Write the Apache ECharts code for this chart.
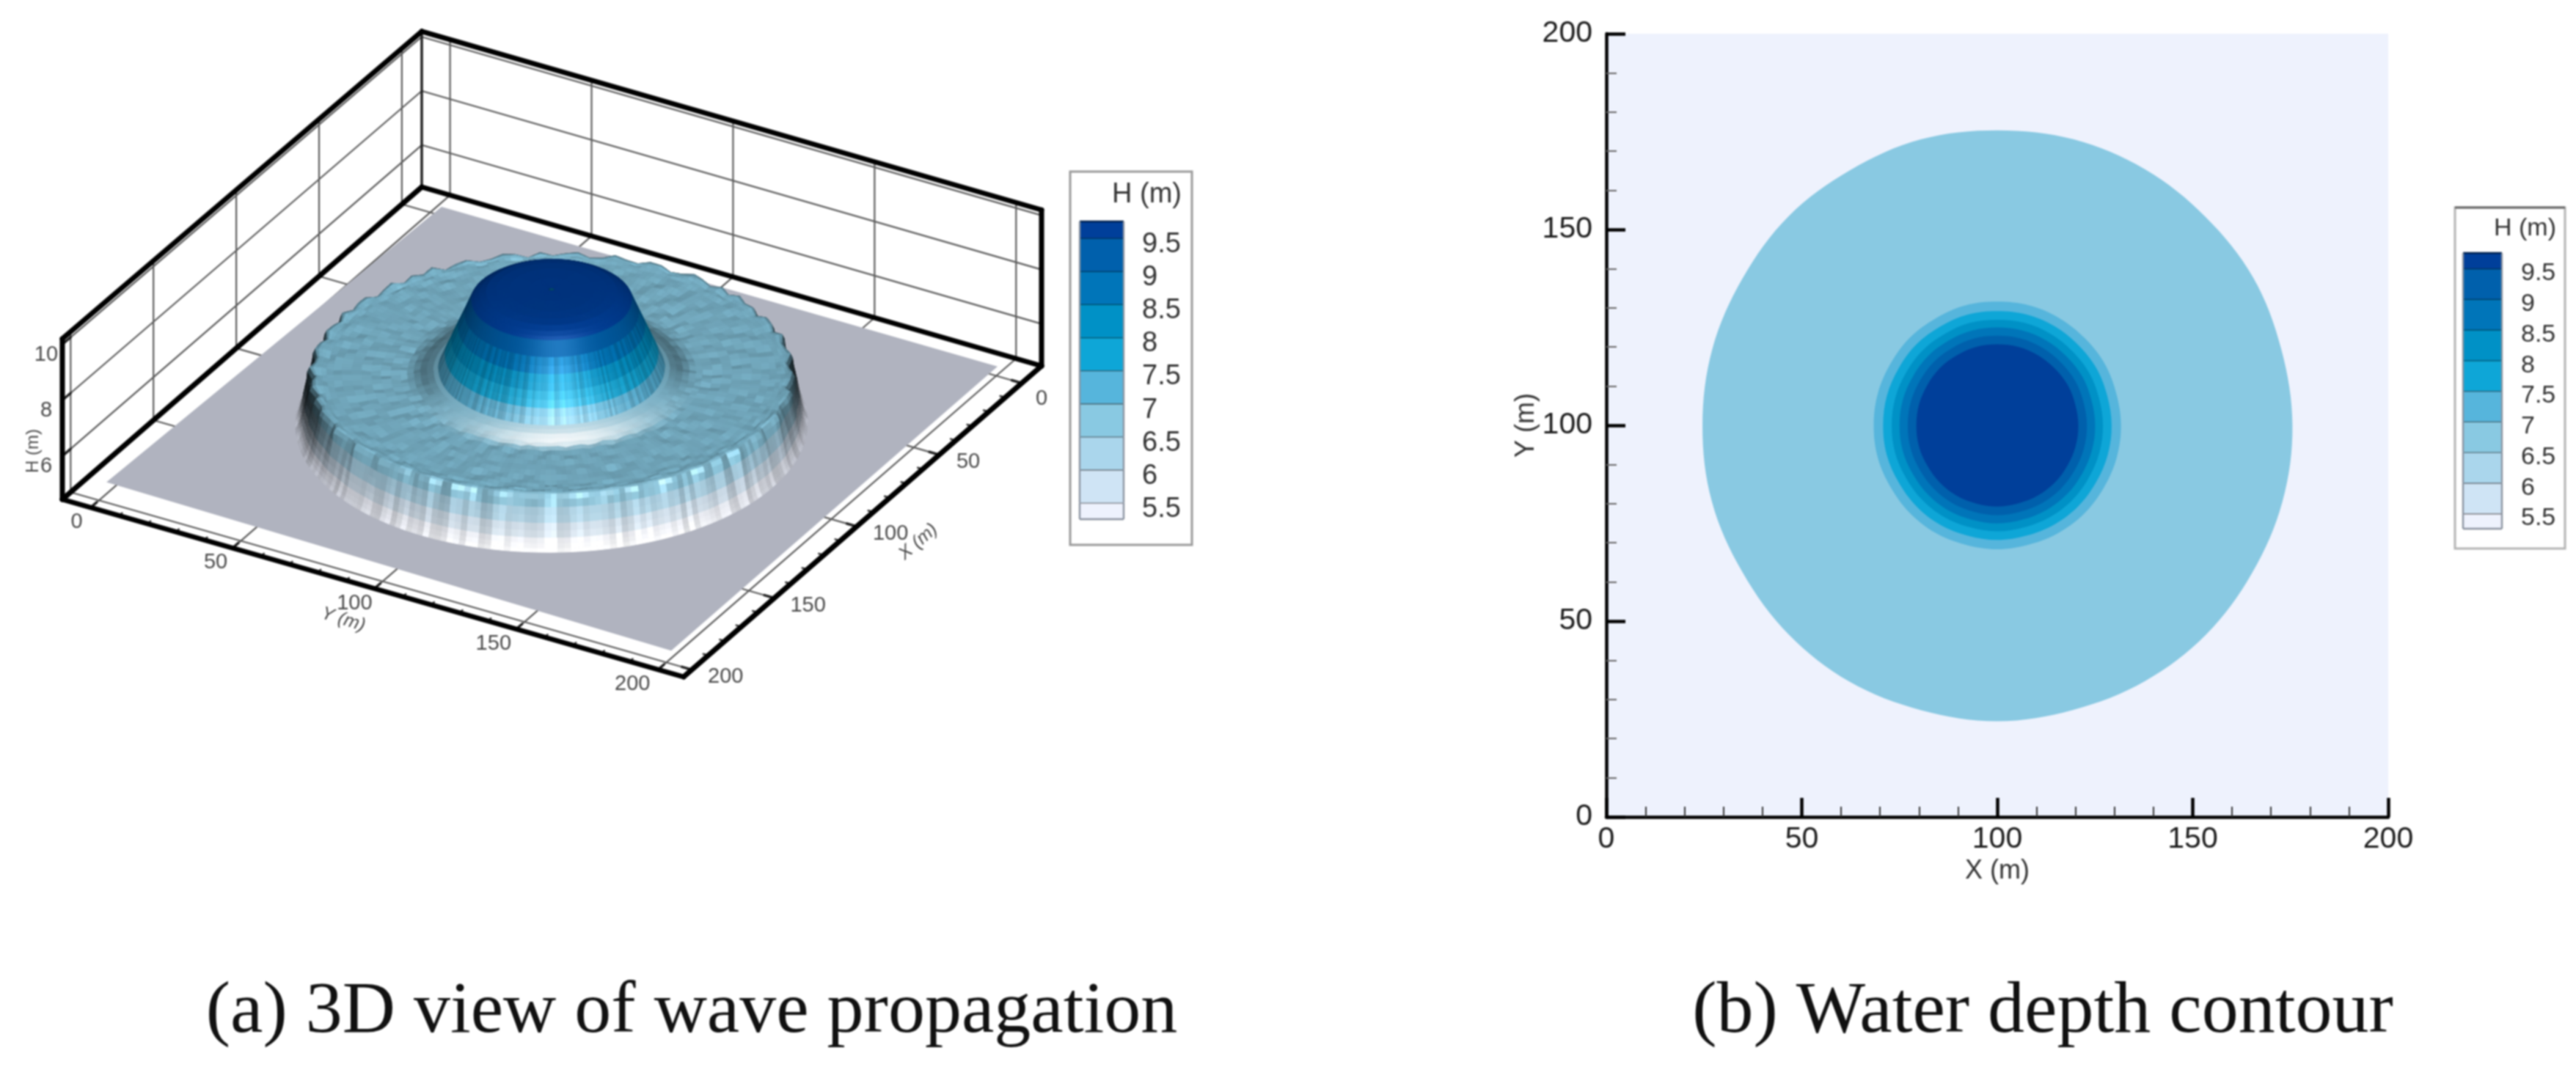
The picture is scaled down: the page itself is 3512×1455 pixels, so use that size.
<!DOCTYPE html>
<html><head><meta charset="utf-8">
<style>html,body{margin:0;padding:0;background:#fff}#c{width:3512px;height:1455px;filter:blur(1.1px)}</style>
<script src="https://cdn.jsdelivr.net/npm/echarts@6/dist/echarts.min.js"></script>
</head><body><div id="c"></div>
<script>
// ---------- values ----------
const axisTicks = [0, 50, 100, 150, 200];
const minorTicks = [10,20,30,40,60,70,80,90,110,120,130,140,160,170,180,190];
const hTicks = [6, 8, 10];
const levels = [5.5, 6, 6.5, 7, 7.5, 8, 8.5, 9, 9.5];
const levelLabels = ['5.5','6','6.5','7','7.5','8','8.5','9','9.5'];
const bandLow = [5.25, 5.5, 6, 6.5, 7, 7.5, 8, 8.5, 9, 9.5];
const bandHigh = [5.5, 6, 6.5, 7, 7.5, 8, 8.5, 9, 9.5, 9.75];
const bandColors = ['#eef2fd','#cfe4f5','#aad6ec','#89c9e2','#56b5dc','#0ea6d7','#0091c6','#0075b9','#0060ac','#003f9a'];
// panel (b): contour radius around the centre (100,100)
const contourCentre = [100, 100];
const contourBand = [3, 4, 5, 6, 7, 8, 9];
const contourRadius = [75.4, 31.6, 29.2, 27, 25, 22.9, 20.7];
// contour radius seen at every 15 degrees, relative to its mean
const outerWobble = [0.1,-0.2,0.15,-0.1,0.1,0.2,-0.05,0.2,-0.15,0.1,-0.2,0.05,0.0,0.15,-0.2,0.1,0.2,-0.1,0.15,-0.2,0.05,0.15,-0.1,0.1];
// panel (a): radial height profile of the wave, one entry per ring
const surfaceCentre = [100, 101.3];
const profileR = [1,7,13,17,20,22,23.5,24.5,25.5,26.5,27.5,28.5,29.5,30.5,31.5,32.5,33.5,34.5,36,38,40,42,44,46,49,52,55,58,61,64,66.5,68.5,70,71,72,72.8,73.5,74.2,74.8,75.4,75.9,76.4,76.9,77.4,78];
const profileH = [9.9,9.9,9.88,9.84,9.78,9.68,9.58,9.5,9.25,9,8.74,8.5,8.25,8,7.74,7.5,7.25,7,6.95,6.9,6.85,6.81,6.78,6.76,6.76,6.76,6.76,6.76,6.76,6.76,6.76,6.77,6.78,6.8,6.82,6.8,6.65,6.4,6.15,5.9,5.65,5.42,5.25,5.1,5.0];
const rimRadial = [0,0,0,0,0,0,0,0,0,0,0,0,0,0,0,0,0,0,0,0,0,0,0,0,0,0,0,0,0,0,0,1,2,4,7,10,10,5,4,3,2,1.5,1,.5,0];
const rimHeight = [0,0,0,0,0,0,0,0,0,0,0,0,0,0,0,0,0,0,0,0,0,0,0,0,0,0,0,0,0,0,0,0,.1,.3,.55,.6,.4,.3,.2,.12,.08,.04,0,0,0];
const rippleAmp = [0,0,0,0,0,0,0,0,0,0,0,0,0,0,0,0,0,0,0,.5,1,1.5,2,2,2,2,2,2,2,2,2,2,2,1.5,1,.5,.3,0,0,0,0,0,0,0,0];
const ringGlow = [0,0,0,0,0,0,0,0,0,0,0,.05,.08,.1,.15,.22,.35,.5,.62,.85,.9,.75,.2,0,0,0,0,0,0,0,0,0,0,0,.06,.1,.12,.15,.2,.3,.4,.55,.75,.9,.9];
const ringDark = [0,0,0,0,0,0,0,0,0,0,0,0,0,0,0,0,0,.08,.25,.3,.2,.08,0,0,0,0,0,0,0,0,0,0,0,0,.15,.45,.72,.75,.7,.6,.5,.35,.2,.1,0];
const wallFade = [0,0,0,0,0,0,0,0,0,0,0,0,0,0,0,0,0,0,0,0,0,0,0,0,0,0,0,0,0,0,0,0,0,0,0,0,0,0,.05,.15,.3,.45,.65,.85,1];
const rim = [.06,-.05,.09,-.02,-.08,.04,.10,-.06,.02,.08,-.09,-.01,.07,.03,-.07,.05,-.03,.11,-.04,-.08,
 .06,.01,-.06,.09,-.02,.04,-.10,.07,.00,-.05,.08,-.07,.03,.10,-.03,-.06,.05,.09,-.08,.02,
 .06,-.04,-.09,.08,.01,-.02,.10,-.06,.04,.07,-.09,.03,-.01,.08,-.05,.06,-.07,.02,.09,-.03,
 -.08,.05,.07,-.06,.00,.10,-.04,-.07,.08,.02,-.05,.06,-.09,.04,.09,-.02,-.06,.07,.01,-.08,
 .10,-.03,.05,-.07,.08,-.01,-.09,.06,.03,-.04,.09,-.06,.02,.07,-.08,.04,.08,-.05,-.02,.10,
 -.07,.03,.06,-.09,.05,-.03,.08,.01,-.06,.09,-.04,-.08,.07,.02,-.05,.10,-.02,.04,-.07,.05];
const streak = [.8,-.6,.2,-1,.5,.9,-.3,-.8,.4,.1,-.7,1,-.2,.6,-.9,.3,-.4,.7,-1,.2,
 .9,-.5,.1,-.8,.6,-.1,.4,-.9,.8,-.3,.5,-.6,1,-.2,-.7,.3,.7,-1,.1,-.4,
 .6,.2,-.8,.9,-.5,.3,-.1,-.9,.7,.4,-.6,.8,-.3,-.7,1,-.2,.5,-.9,.2,-.4];
const plateCorners = [[1.7,5],[196,0.3],[199.6,201.5],[1.3,201.2]];
const boxRangeX = [-12, 205];
const boxRangeY = [-10, 209];
const boxRangeH = [4.45, 10.2];

// ---------- view of the 3D box on the page ----------
const view = {back:[575,255,36.9], left:[85,681,38.1], right:[1420,499,37], front:[932,923,37.5], plateH:4.9};
function project(X, Y, H) {
  const u = (X-boxRangeX[0])/(boxRangeX[1]-boxRangeX[0]), v = (Y-boxRangeY[0])/(boxRangeY[1]-boxRangeY[0]);
  const b = i => (1-u)*(1-v)*view.back[i] + u*(1-v)*view.left[i] + (1-u)*v*view.right[i] + u*v*view.front[i];
  return [b(0), b(1) - (H-boxRangeH[0])*b(2)];
}
// ---------- surface mesh from the profile ----------
function hex(c){return [1,3,5].map(i=>parseInt(c.substr(i,2),16));}
function bandOf(h){for(let i=bandHigh.length-1;i>=0;i--){if(h>=bandLow[i])return i;}return 0;}
const rimN = rim.length, sectors = rimN*2, hScale = 9.9;
const fDir=[.867,.498], sDir=[-.508,.862], plateRGB=hex('#b0b3bf');
function norm(v){const l=Math.hypot(...v);return v.map(a=>a/l);}
const L = norm([.72,.13,.68]), Vw=[.866,0,.5], Hv = norm([L[0]+Vw[0],L[1]+Vw[1],L[2]+Vw[2]]);
const rimSoft = rim.map((_,k)=>(rim[(k+rimN-2)%rimN]+rim[(k+rimN-1)%rimN]+rim[k]+rim[(k+1)%rimN]+rim[(k+2)%rimN])/5);
function sample(arr,j){const k=j/2,a=Math.floor(k)%rimN,b=Math.ceil(k)%rimN;return (arr[a]+arr[b])/2;}
function meshPoint(i,j){
  const jj=(j+sectors)%sectors, a=jj*2*Math.PI/sectors;
  const e=sample(rim,jj);
  const r=profileR[i]+rimRadial[i]*e;
  const h=profileH[i]+rimHeight[i]*e+rippleAmp[i]*sample(rimSoft,(jj+i*26)%sectors);
  return [surfaceCentre[0]+r*Math.cos(a), surfaceCentre[1]+r*Math.sin(a), h];
}
const cl=(v,a,b)=>Math.max(a,Math.min(b,v));
const azF=[fDir[0]*.996+sDir[0]*.087, fDir[1]*.996+sDir[1]*.087];
const meshQuads=[];
for(let i=0;i<profileR.length-1;i++){
  for(let j=0;j<sectors;j++){
    const p=[meshPoint(i,j),meshPoint(i+1,j),meshPoint(i+1,j+1),meshPoint(i,j+1)];
    const d1=[p[2][0]-p[0][0],p[2][1]-p[0][1],(p[2][2]-p[0][2])*hScale];
    const d2=[p[3][0]-p[1][0],p[3][1]-p[1][1],(p[3][2]-p[1][2])*hScale];
    const nn=norm([d1[1]*d2[2]-d1[2]*d2[1],d1[2]*d2[0]-d1[0]*d2[2],d1[0]*d2[1]-d1[1]*d2[0]]);
    const nv=[nn[0]*fDir[0]+nn[1]*fDir[1],nn[0]*sDir[0]+nn[1]*sDir[1],nn[2]];
    const dl=Math.max(0,nv[0]*L[0]+nv[1]*L[1]+nv[2]*L[2]);
    const dh=Math.max(0,nv[0]*Hv[0]+nv[1]*Hv[1]+nv[2]*Hv[2]);
    const hm=(profileH[i]+profileH[i+1])/2;
    const spec=Math.pow(dh,26)*(hm>9?.3:.5);
    const cx=(p[0][0]+p[2][0])/2, cy=(p[0][1]+p[2][1])/2;
    const dx=cx-surfaceCentre[0], dy=cy-surfaceCentre[1], rr=Math.hypot(dx,dy)||1;
    const c=(dx*azF[0]+dy*azF[1])/rr;
    const dark=ringDark[i]*cl((.5-c)/.5,0,1);
    const I=(.47+.5*dl)*(1-dark);
    const glow=ringGlow[i]*Math.pow(Math.max(0,c),profileR[i]>60?2:4);
    const fade=wallFade[i]*(1-Math.max(0,c));
    const steep=1-nv[2];
    const st=(steep>.35&&hm<9)?1+.09*streak[(j*7)%streak.length]:1;
    const base=hex(bandColors[bandOf(hm)]);
    const col=base.map((b,k)=>{
      let v=b*I+255*spec;
      v=v*(1-glow)+255*glow;
      v=v*(1-fade)+plateRGB[k]*fade;
      return cl(Math.round(v*st),0,255);
    });
    meshQuads.push({p,fill:'rgb('+col.join(',')+')',depth:project(cx,cy,view.plateH)[1]});
  }
}
meshQuads.sort((a,b)=>a.depth-b.depth);

// ---------- frame segments built from the tick arrays ----------
const [xa,xb]=boxRangeX,[ya,yb]=boxRangeY,[ha,hb]=boxRangeH;
const heavy=[], thin=[], minor=[], mid=[];
heavy.push([xb,ya,ha,xb,ya,hb],[xa,ya,hb,xb,ya,hb],[xa,ya,hb,xa,yb,hb],[xa,yb,ha,xa,yb,hb],
           [xb,ya,ha,xb,yb,ha],[xa,yb,ha,xb,yb,ha],[xa,ya,ha,xb,ya,ha],[xa,ya,ha,xa,yb,ha]);
mid.push([xa,ya,ha,xa,ya,hb]);
axisTicks.forEach(t=>{
  thin.push([t,ya,ha,t,ya,hb],[xa,t,ha,xa,t,hb]);
  thin.push([t,ya,ha,t,yb,ha],[xa,t,ha,xb,t,ha]);
  mid.push([t,yb,ha,t,yb-3.5,ha],[xb,t,ha,xb-3.5,t,ha]);
});
hTicks.forEach(h=>{
  thin.push([xb,ya,h,xa,ya,h],[xa,ya,h,xa,yb,h]);
  mid.push([xb,ya,h,xb-5,ya,h]);
});
minorTicks.forEach(t=>{
  minor.push([t,yb,ha,t,yb-1.8,ha],[xb,t,ha,xb-1.8,t,ha]);
});
const frameSegs=[...thin.map(s=>[s,2.2,'#5c5c5c']),...mid.map(s=>[s,3.5,'#222']),...minor.map(s=>[s,2.5,'#333']),...heavy.map(s=>[s,7,'#000'])];

// labels of the 3D panel
const label3d=[];
axisTicks.forEach(t=>{
  const a=project(xb,t,ha); label3d.push({x:a[0]-19-t*.08,y:a[1]+20,text:String(t),font:29,rot:0});
  const b=project(t,yb,ha); label3d.push({x:b[0]+Math.min(46,27+t*.25),y:b[1]+(t===0?22:10),text:String(t),font:29,rot:0});
});
hTicks.forEach(h=>{const a=project(xb,ya,h); label3d.push({x:a[0]-22,y:a[1]+14,text:String(h),font:29,rot:0});});
label3d.push({x:468,y:845,text:'Y (m)',font:25,rot:-0.3,italic:true});
label3d.push({x:1252,y:739,text:'X (m)',font:25,rot:0.72,italic:true});
label3d.push({x:45,y:615,text:'H (m)',font:24,rot:Math.PI/2});

// ---------- helpers ----------
function legendSeries(gridIndex,name){
  return {type:'custom',name,coordinateSystem:'cartesian2d',xAxisIndex:gridIndex,yAxisIndex:gridIndex,clip:false,silent:true,z:5,
    data:bandColors.map((c,i)=>[0,bandLow[i],1,bandHigh[i]]),
    renderItem:(p,api)=>{
      const i=p.dataIndex;
      const tl=api.coord([0,bandHigh[i]]), br=api.coord([1,bandLow[i]]);
      const dark='rgb('+hex(bandColors[i]).map(c=>Math.round(c*.5)).join(',')+')';
      const kids=[
        {type:'rect',shape:{x:tl[0],y:tl[1],width:br[0]-tl[0],height:br[1]-tl[1]},style:{fill:bandColors[i]}},
        {type:'line',shape:{x1:tl[0],y1:tl[1],x2:br[0],y2:tl[1]},style:{stroke:dark,lineWidth:2.6}},
        {type:'line',shape:{x1:tl[0],y1:tl[1],x2:tl[0],y2:br[1]},style:{stroke:'#8b93a0',lineWidth:2.4}},
        {type:'line',shape:{x1:br[0],y1:tl[1],x2:br[0],y2:br[1]},style:{stroke:'#8b93a0',lineWidth:2.4}}];
      if(i===0)kids.push({type:'line',shape:{x1:tl[0],y1:br[1],x2:br[0],y2:br[1]},style:{stroke:'#8b93a0',lineWidth:2.6}});
      return {type:'group',children:kids};
    }};
}
function legendLabels(gridIndex,name,font,gap,drop){
  return {type:'custom',name,coordinateSystem:'cartesian2d',xAxisIndex:gridIndex,yAxisIndex:gridIndex,clip:false,silent:true,z:6,
    data:levels.map(v=>[1,v]),
    renderItem:(p,api)=>{
      const c=api.coord([1,levels[p.dataIndex]]);
      return {type:'text',x:c[0]+gap,y:c[1]+drop,style:{text:levelLabels[p.dataIndex],textAlign:'left',textVerticalAlign:'middle',fontFamily:'Liberation Sans',fontSize:font,fill:'#333'}};
    }};
}
function legendY(gridIndex){return {gridIndex,type:'value',min:5.25,max:9.75,show:false};}
function legendX(gridIndex){return {gridIndex,type:'value',min:0,max:1,show:false};}
const mainAxisFont={fontFamily:'Liberation Sans',fontSize:41,color:'#1c1c1c'};

const chart=echarts.init(document.getElementById('c'),null,{renderer:'canvas',width:3512,height:1455});
chart.setOption({
  animation:false,backgroundColor:'#fff',
  grid:[
    {left:2190,top:46,width:1066,height:1068,show:true,backgroundColor:'#eef2fd',borderWidth:0},
    {left:1472,top:302,width:60,height:406},
    {left:3358,top:345,width:53,height:376},
    {left:0,top:0,width:3512,height:1455}
  ],
  xAxis:[
    {gridIndex:0,type:'value',min:0,max:200,interval:50,position:'bottom',
      name:'X (m)',nameLocation:'middle',nameGap:51,nameTextStyle:{fontFamily:'Liberation Sans',fontSize:36,color:'#333'},
      axisLine:{lineStyle:{color:'#000',width:4.5}},axisTick:{inside:true,length:26,lineStyle:{color:'#000',width:4.5}},
      minorTick:{show:true,splitNumber:5,length:14,lineStyle:{color:'#333',width:2}},splitLine:{show:false},minorSplitLine:{show:false},
      axisLabel:{...mainAxisFont,margin:10,showMinLabel:true,showMaxLabel:true}},
    legendX(1),legendX(2),
    {gridIndex:3,type:'value',min:0,max:3512,show:false}
  ],
  yAxis:[
    {gridIndex:0,type:'value',min:0,max:200,interval:50,
      name:'Y (m)',nameLocation:'middle',nameGap:88,nameRotate:90,nameTextStyle:{fontFamily:'Liberation Sans',fontSize:36,color:'#333'},
      axisLine:{lineStyle:{color:'#000',width:4.5}},axisTick:{inside:true,length:26,lineStyle:{color:'#000',width:4.5}},
      minorTick:{show:true,splitNumber:5,length:14,lineStyle:{color:'#666',width:2}},splitLine:{show:false},minorSplitLine:{show:false},
      axisLabel:{...mainAxisFont,margin:19,showMinLabel:true,showMaxLabel:true}},
    legendY(1),legendY(2),
    {gridIndex:3,type:'value',min:0,max:1455,inverse:true,show:false}
  ],
  graphic:[
    {type:'rect',z:-1,shape:{x:1459,y:234,width:166,height:509},style:{fill:'#fff',stroke:'#9a9a9a',lineWidth:3}},
    {type:'rect',z:-1,shape:{x:3347,y:283,width:150,height:465},style:{fill:'#fff',stroke:'#b4b4b4',lineWidth:3}},
    {type:'line',z:-1,shape:{x1:3347,y1:283,x2:3497,y2:283},style:{stroke:'#666',lineWidth:3}},
    {type:'text',z:10,style:{x:1611,y:266,text:'H (m)',textAlign:'right',textVerticalAlign:'middle',fontFamily:'Liberation Sans',fontSize:38,fill:'#333'}},
    {type:'text',z:10,style:{x:3485,y:312,text:'H (m)',textAlign:'right',textVerticalAlign:'middle',fontFamily:'Liberation Sans',fontSize:34,fill:'#333'}},
    {type:'text',z:10,style:{x:943,y:1381,text:'(a) 3D view of wave propagation',textAlign:'center',textVerticalAlign:'middle',fontFamily:'Liberation Serif',fontSize:100,fill:'#111'}},
    {type:'text',z:10,style:{x:2785,y:1381,text:'(b) Water depth contour',textAlign:'center',textVerticalAlign:'middle',fontFamily:'Liberation Serif',fontSize:100,fill:'#111'}}
  ],
  series:[
    {type:'custom',name:'contour',xAxisIndex:0,yAxisIndex:0,coordinateSystem:'cartesian2d',clip:true,silent:true,z:2,
      data:contourRadius.map((r,i)=>[contourCentre[0],contourCentre[1],r]),
      renderItem:(p,api)=>{
        const i=p.dataIndex,r=contourRadius[i],pts=[];
        const n=outerWobble.length;
        for(let k=0;k<n;k++){
          const a=k*2*Math.PI/n, rr=r+outerWobble[k]*r/75;
          pts.push(api.coord([contourCentre[0]+rr*Math.cos(a),contourCentre[1]+rr*Math.sin(a)]));
        }
        return {type:'polygon',shape:{points:pts,smooth:0.35},style:{fill:bandColors[contourBand[i]]}};
      }},
    legendSeries(1,'legend a'),legendSeries(2,'legend b'),
    legendLabels(1,'legend a labels',38,25,9),legendLabels(2,'legend b labels',34,26,7),
    {type:'custom',name:'frame',xAxisIndex:3,yAxisIndex:3,coordinateSystem:'cartesian2d',clip:false,silent:true,z:1,
      data:frameSegs.map((s,i)=>[i,i]),
      renderItem:(p,api)=>{
        const [s,w,c]=frameSegs[p.dataIndex];
        const a=api.coord(project(s[0],s[1],s[2])),b=api.coord(project(s[3],s[4],s[5]));
        return {type:'line',shape:{x1:a[0],y1:a[1],x2:b[0],y2:b[1]},style:{stroke:c,lineWidth:w,lineCap:'round'}};
      }},
    {type:'custom',name:'plate',xAxisIndex:3,yAxisIndex:3,coordinateSystem:'cartesian2d',clip:false,silent:true,z:2,
      data:[[0,0]],
      renderItem:(p,api)=>({type:'polygon',shape:{points:plateCorners.map(c=>api.coord(project(c[0],c[1],view.plateH)))},style:{fill:'#b0b3bf'}})},
    {type:'custom',name:'surface',xAxisIndex:3,yAxisIndex:3,coordinateSystem:'cartesian2d',clip:false,silent:true,z:3,
      progressive:0,large:false,
      data:meshQuads.map((q,i)=>[i,i]),
      renderItem:(p,api)=>{
        const q=meshQuads[p.dataIndex];
        return {type:'polygon',shape:{points:q.p.map(v=>api.coord(project(v[0],v[1],v[2])))},style:{fill:q.fill,stroke:q.fill,lineWidth:1}};
      }},
    {type:'custom',name:'labels 3d',xAxisIndex:3,yAxisIndex:3,coordinateSystem:'cartesian2d',clip:false,silent:true,z:6,
      data:label3d.map((l,i)=>[i,i]),
      renderItem:(p,api)=>{
        const l=label3d[p.dataIndex],c=api.coord([l.x,l.y]);
        return {type:'text',x:c[0],y:c[1],rotation:l.rot,style:{text:l.text,textAlign:'center',textVerticalAlign:'middle',fontFamily:'Liberation Sans',fontSize:l.font,fontStyle:l.italic?'italic':'normal',fill:'#4a4a4a'}};
      }}
  ]
});
</script></body></html>
